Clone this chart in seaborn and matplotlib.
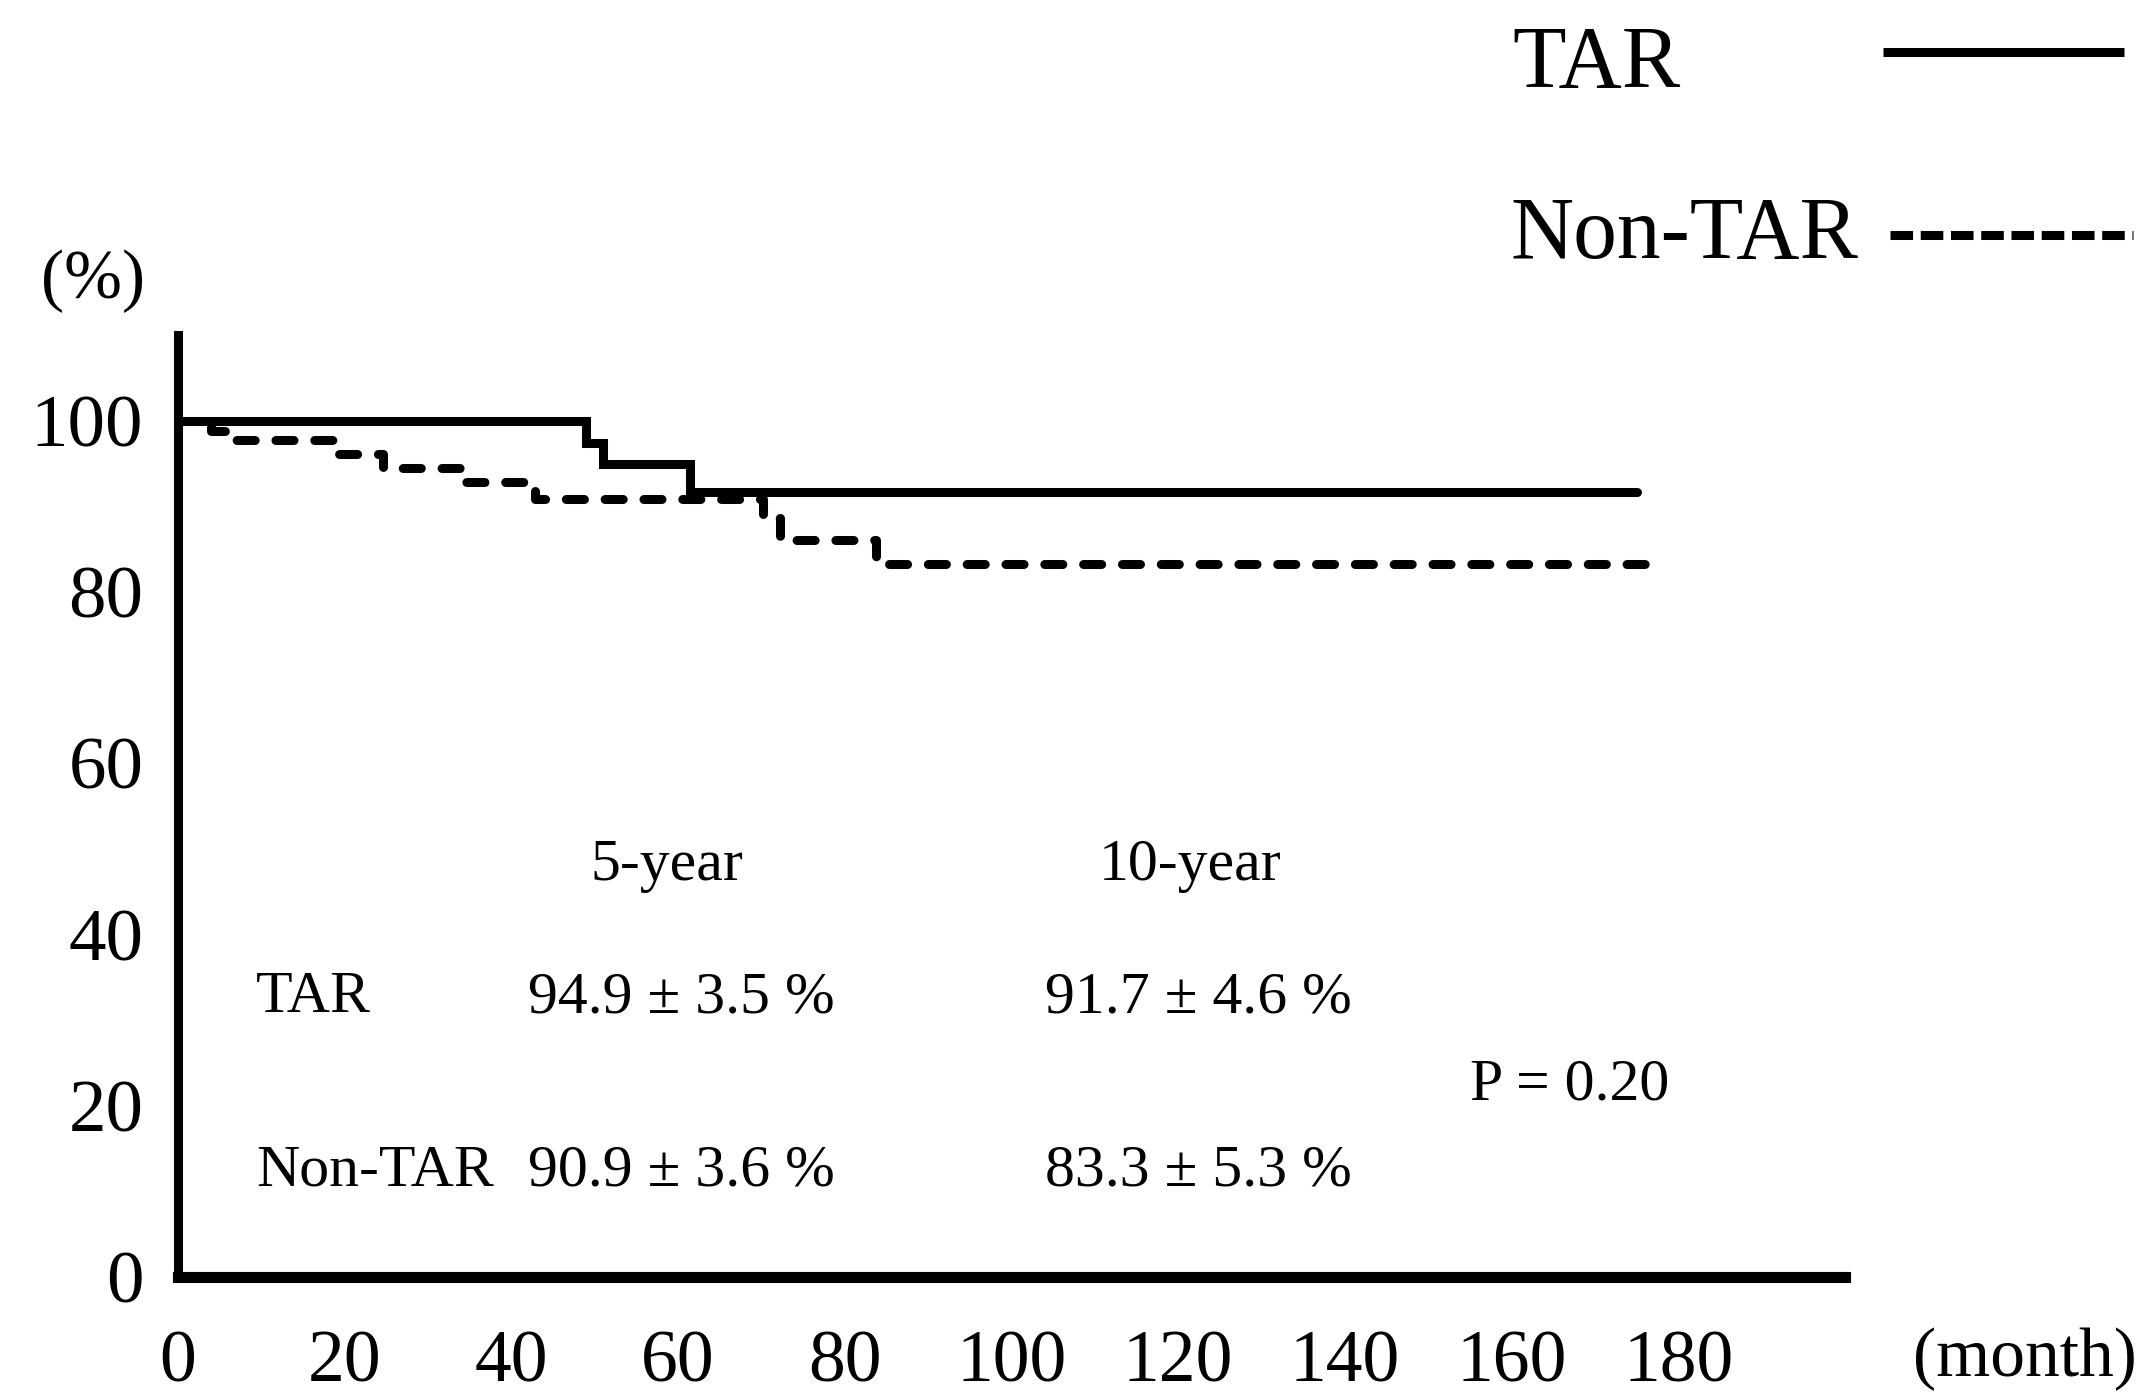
import numpy as np
import pandas as pd
import matplotlib
matplotlib.use('Agg')
import matplotlib.pyplot as plt
from matplotlib.lines import Line2D
import seaborn as sns

# 生存曲线数据（从图中读取的阶梯点）
tar_month = [0, 49.0, 51.0, 61.4, 175]
tar_surv = [100, 97.4, 94.9, 91.7, 91.7]
non_tar_month = [0, 4.0, 6.4, 19.2, 24.6, 34.2, 42.8, 70.2, 72.2, 83.8, 178]
non_tar_surv = [100, 98.8, 97.7, 96.1, 94.5, 92.8, 90.9, 88.6, 86.1, 83.3, 83.3]

groups = ['TAR', 'Non-TAR']
x_ticks = [0, 20, 40, 60, 80, 100, 120, 140, 160, 180, 200]
x_tick_labels = ['0', '20', '40', '60', '80', '100', '120', '140', '160', '180', '']
y_ticks = [0, 20, 40, 60, 80, 100]

rate_cols = ['5-year', '10-year']
tar_rates = ['94.9 ± 3.5 %', '91.7 ± 4.6 %']
non_tar_rates = ['90.9 ± 3.6 %', '83.3 ± 5.3 %']
p_text = 'P = 0.20'

df = pd.concat([
    pd.DataFrame({'month': tar_month, 'survival': tar_surv, 'group': 'TAR'}),
    pd.DataFrame({'month': non_tar_month, 'survival': non_tar_surv, 'group': 'Non-TAR'}),
], ignore_index=True)

sns.set_style('white')
plt.rcParams['font.family'] = ['Liberation Serif', 'DejaVu Serif']
plt.rcParams['text.color'] = 'black'

fig = plt.figure(figsize=(21.42, 13.98), dpi=100)
ax = fig.add_axes([0.0831, 0.0866, 0.7782, 0.6738])

dash_pat = (2.0, 2.3)
sns.lineplot(
    data=df, x='month', y='survival', style='group', style_order=groups,
    dashes={'TAR': '', 'Non-TAR': dash_pat}, color='black', linewidth=6.5,
    drawstyle='steps-post', estimator=None, legend=False, ax=ax,
)
for line in ax.lines:
    line.set_dash_capstyle('round')
    line.set_solid_capstyle('round')
    line.set_solid_joinstyle('miter')

ax.set_xlim(0, 200)
ax.set_ylim(0, 110)
ax.set_xticks(x_ticks)
ax.set_xticklabels(x_tick_labels)
ax.set_yticks(y_ticks)
ax.set_xlabel('')
ax.set_ylabel('')

for side in ['top', 'right']:
    ax.spines[side].set_visible(False)
ax.spines['left'].set_linewidth(6.5)
ax.spines['bottom'].set_linewidth(8)
ax.spines['left'].set_color('black')
ax.spines['bottom'].set_color('black')

ax.tick_params(axis='both', direction='out', length=8, width=2, color='black',
               labelcolor='black')
ax.tick_params(axis='x', labelsize=53, pad=30)
ax.tick_params(axis='y', labelsize=54, pad=17)

# 表格文字
stat_fs = 43
ax.text(58.7, 46.4, rate_cols[0], fontsize=stat_fs, ha='center', va='baseline')
ax.text(121.4, 46.4, rate_cols[1], fontsize=stat_fs, ha='center', va='baseline')
ax.text(9.4, 30.9, groups[0], fontsize=stat_fs, ha='left', va='baseline')
ax.text(9.4, 10.7, groups[1], fontsize=stat_fs, ha='left', va='baseline')
ax.text(42.0, 30.9, tar_rates[0], fontsize=stat_fs, ha='left', va='baseline')
ax.text(104.0, 30.9, tar_rates[1], fontsize=stat_fs, ha='left', va='baseline')
ax.text(42.0, 10.7, non_tar_rates[0], fontsize=stat_fs, ha='left', va='baseline')
ax.text(104.0, 10.7, non_tar_rates[1], fontsize=stat_fs, ha='left', va='baseline')
ax.text(155.0, 20.7, p_text, fontsize=stat_fs, ha='left', va='baseline')

# 轴单位
fig.text(0.0434, 0.799, '(%)', fontsize=50, ha='center', va='center')
fig.text(0.9452, 0.028, '(month)', fontsize=50, ha='center', va='center')

# 图例（右上角，文字在左，线在右）
fig.text(0.706, 0.9378, groups[0], fontsize=63, ha='left', va='baseline')
fig.text(0.705, 0.8155, groups[1], fontsize=63, ha='left', va='baseline')
fig.add_artist(Line2D([0.879, 0.9916], [0.963, 0.963], transform=fig.transFigure,
                      color='black', linewidth=6.5, solid_capstyle='butt'))
fig.add_artist(Line2D([0.8824, 0.9958], [0.8319, 0.8319], transform=fig.transFigure,
                      color='black', linewidth=6.5, linestyle=(0, (2.5, 0.85)),
                      dash_capstyle='butt'))

fig.savefig('out.png', dpi=100, facecolor='white')
